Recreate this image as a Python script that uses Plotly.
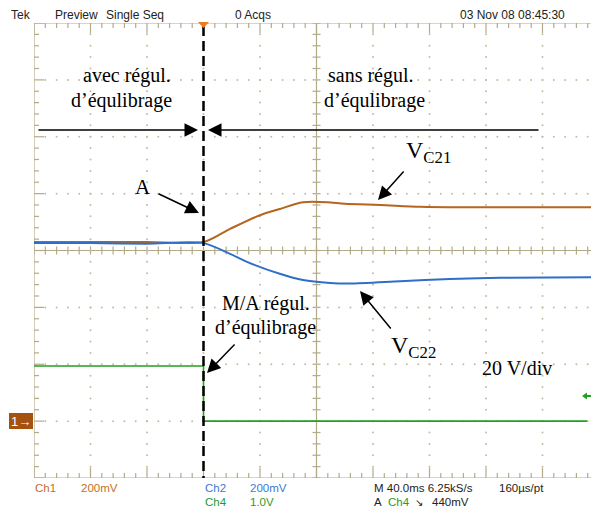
import plotly.graph_objects as go

# ---------------- data (divisions) ----------------
ch1_t = [0.0, 1.0, 2.0, 3.0, 3.47, 4.0, 4.35, 4.76, 5.19, 5.5, 6.12, 6.83, 7.54, 8.5, 9.86]
ch1_v = [0.15, 0.15, 0.15, 0.15, 0.38, 0.62, 0.73, 0.85, 0.85, 0.82, 0.80, 0.77, 0.76, 0.76, 0.76]

ch2_t = [0.0, 1.0, 2.0, 3.0, 3.47, 3.77, 4.35, 4.76, 5.24, 5.59, 6.48, 7.36, 8.25, 9.86]
ch2_v = [0.13, 0.13, 0.12, 0.13, -0.06, -0.20, -0.41, -0.52, -0.57, -0.58, -0.54, -0.50, -0.48, -0.47]

ch4_t = [0.0, 3.0, 3.0, 9.79]
ch4_v = [-2.03, -2.03, -3.0, -3.0]

trigger_t = 3.0
trigger_level = -2.56   # ch4 trigger marker (divisions)

top_labels = ["Tek", "Preview", "Single Seq", "0 Acqs", "03 Nov 08 08:45:30"]

# ---------------- geometry ----------------
W, H = 591, 511
L, T, B = 34, 23, 478
XD = 56.5      # px per horizontal division
YD = (B - T) / 8.0
XMAX = (W - L) / XD

def X(px):
    return (px - L) / XD

def Y(py):
    return (T + B) / 2.0 / YD - py / YD

def PX(px):
    return (px - L) / (W - L)

def PY(py):
    return (B - py) / (B - T)

GRAT = "#b3aa88"
DOT = "#c4bca0"

fig = go.Figure()

# graticule lines / ticks
gx, gy = [], []
def seg(x0, y0, x1, y1):
    gx.extend([x0, x1, None]); gy.extend([y0, y1, None])

seg(0, -4, 0, 4)
seg(0, 4, XMAX, 4)
seg(0, -4, XMAX, -4)
seg(5, -4, 5, 4)
seg(0, 0, XMAX, 0)

n = 0
while n * 0.2 <= XMAX + 1e-9:
    x = n * 0.2
    major = (n % 5 == 0)
    ln = (10 if major else 5) / YD
    seg(x, 4, x, 4 - ln)
    seg(x, -4, x, -4 + ln)
    seg(x, -4.0 / YD, x, 4.0 / YD)
    n += 1
for m in range(0, 41):
    y = -4 + m * 0.2
    major = (m % 5 == 0)
    ln = (10 if major else 5) / XD
    seg(0, y, ln, y)
    seg(5 - 4.0 / XD, y, 5 + 4.0 / XD, y)

fig.add_trace(go.Scatter(x=gx, y=gy, mode="lines", line=dict(color=GRAT, width=1.2),
                         hoverinfo="skip", showlegend=False, cliponaxis=False))

# dotted grid
dx, dy = [], []
for gxl in [1, 2, 3, 4, 6, 7, 8, 9]:
    for m in range(1, 40):
        dx.append(gxl); dy.append(-4 + m * 0.2)
for gyl in [-3, -2, -1, 1, 2, 3]:
    n = 1
    while n * 0.2 <= XMAX:
        dx.append(n * 0.2); dy.append(gyl)
        n += 1
fig.add_trace(go.Scatter(x=dx, y=dy, mode="markers",
                         marker=dict(color=DOT, size=2, line=dict(width=0)),
                         hoverinfo="skip", showlegend=False))

# traces
fig.add_trace(go.Scatter(x=ch4_t, y=ch4_v, mode="lines", line=dict(color="#22a022", width=1.6),
                         showlegend=False))
fig.add_trace(go.Scatter(x=ch1_t, y=ch1_v, mode="lines", line=dict(color="#b5651f", width=2, shape="spline", smoothing=0.8),
                         showlegend=False))
fig.add_trace(go.Scatter(x=ch2_t, y=ch2_v, mode="lines", line=dict(color="#2f6fc8", width=2, shape="spline", smoothing=0.8),
                         showlegend=False))

# dashed trigger line
fig.add_shape(type="line", xref="x", yref="y", x0=trigger_t, x1=trigger_t, y0=Y(26), y1=-4,
              line=dict(color="black", width=2.5, dash="10px,5px"))

# trigger marker (top)
tx = L + trigger_t * XD
fig.add_shape(type="path", xref="paper", yref="paper",
              path=f"M {PX(tx-5.5)} {PY(22)} L {PX(tx+5.5)} {PY(22)} L {PX(tx)} {PY(28)} Z",
              fillcolor="#f07a20", line=dict(width=0))

# ch4 trigger level marker (right)
ty = (T + B) / 2.0 - trigger_level * YD
fig.add_shape(type="path", xref="paper", yref="paper",
              path=(f"M {PX(582)} {PY(ty)} L {PX(587)} {PY(ty-3.5)} L {PX(587)} {PY(ty-1)} "
                    f"L {PX(591)} {PY(ty-1)} L {PX(591)} {PY(ty+1)} L {PX(587)} {PY(ty+1)} "
                    f"L {PX(587)} {PY(ty+3.5)} Z"),
              fillcolor="#22a022", line=dict(width=0))

# ch1 ground marker box
fig.add_shape(type="rect", xref="paper", yref="paper", x0=PX(9), x1=PX(33), y0=PY(429), y1=PY(413),
              fillcolor="#a5520f", line=dict(width=0))

ann = []
def txt(px, py, s, size=12, color="#222", font="Liberation Sans", anchor="left"):
    ann.append(dict(x=PX(px), y=PY(py), xref="paper", yref="paper", text=s, showarrow=False,
                    xanchor=anchor, yanchor="middle", font=dict(size=size, color=color, family=font)))

txt(21, 421, "1→", 13, "white", anchor="center")

# top bar
top_x = [9, 53, 104, 233, 458]
for px, s in zip(top_x, top_labels):
    txt(px, 15, s, 12, "#222")

# bottom bar
OR, BL, GR = "#c07028", "#3c7ad0", "#2a9a2a"
txt(33, 488, "Ch1", 11.5, OR)
txt(79, 488, "200mV", 11.5, OR)
txt(203, 488, "Ch2", 11.5, BL)
txt(248, 488, "200mV", 11.5, BL)
txt(203, 502, "Ch4", 11.5, GR)
txt(248, 502, "1.0V", 11.5, GR)
txt(372, 488, "M 40.0ms 6.25kS/s", 11.5, "#222")
txt(497, 488, "160µs/pt", 11.5, "#222")
txt(372, 502, "A", 11.5, "#222")
txt(386, 502, "Ch4", 11.5, GR)
txt(413, 502, "↘", 10, "#222")
txt(430, 502, "440mV", 11.5, "#222")

# serif annotations
SER = "Liberation Serif"
txt(127, 75, "avec régul.", 20, "black", SER, "center")
txt(121, 101, "d’équlibrage", 20, "black", SER, "center")
txt(371, 75, "sans régul.", 20, "black", SER, "center")
txt(374, 101, "d’équlibrage", 20, "black", SER, "center")
txt(143, 187, "A", 21, "black", SER, "center")
txt(404, 152, "V<sub>C21</sub>", 24, "black", SER, "left")
txt(389, 347, "V<sub>C22</sub>", 24, "black", SER, "left")
txt(266, 303, "M/A régul.", 20, "black", SER, "center")
txt(265, 327, "d’équlibrage", 20, "black", SER, "center")
txt(517, 368, "20 V/div", 20, "black", SER, "center")

def arrow(tail, head):
    ann.append(dict(x=X(head[0]), y=Y(head[1]), xref="x", yref="y", text="", showarrow=True,
                    ax=tail[0] - head[0], ay=tail[1] - head[1], axref="pixel", ayref="pixel",
                    arrowhead=2, arrowsize=1.8, arrowwidth=1.5, arrowcolor="black", standoff=0))

arrow((37, 130), (198, 130))
arrow((540, 130), (208, 130))
arrow((157, 193), (199, 213))
arrow((405, 170), (378, 200))
arrow((392, 330), (360, 291))
arrow((236, 343), (207, 373))

fig.update_layout(
    width=W, height=H,
    margin=dict(l=L, r=0, t=T, b=H - B, pad=0),
    paper_bgcolor="white", plot_bgcolor="white",
    xaxis=dict(range=[0, XMAX], visible=False, fixedrange=True),
    yaxis=dict(range=[-4, 4], visible=False, fixedrange=True),
    annotations=ann,
    showlegend=False,
)

fig.write_html("out.html", config={"displayModeBar": False},
               post_script="document.body.style.margin='0';document.body.style.overflow='hidden';")
